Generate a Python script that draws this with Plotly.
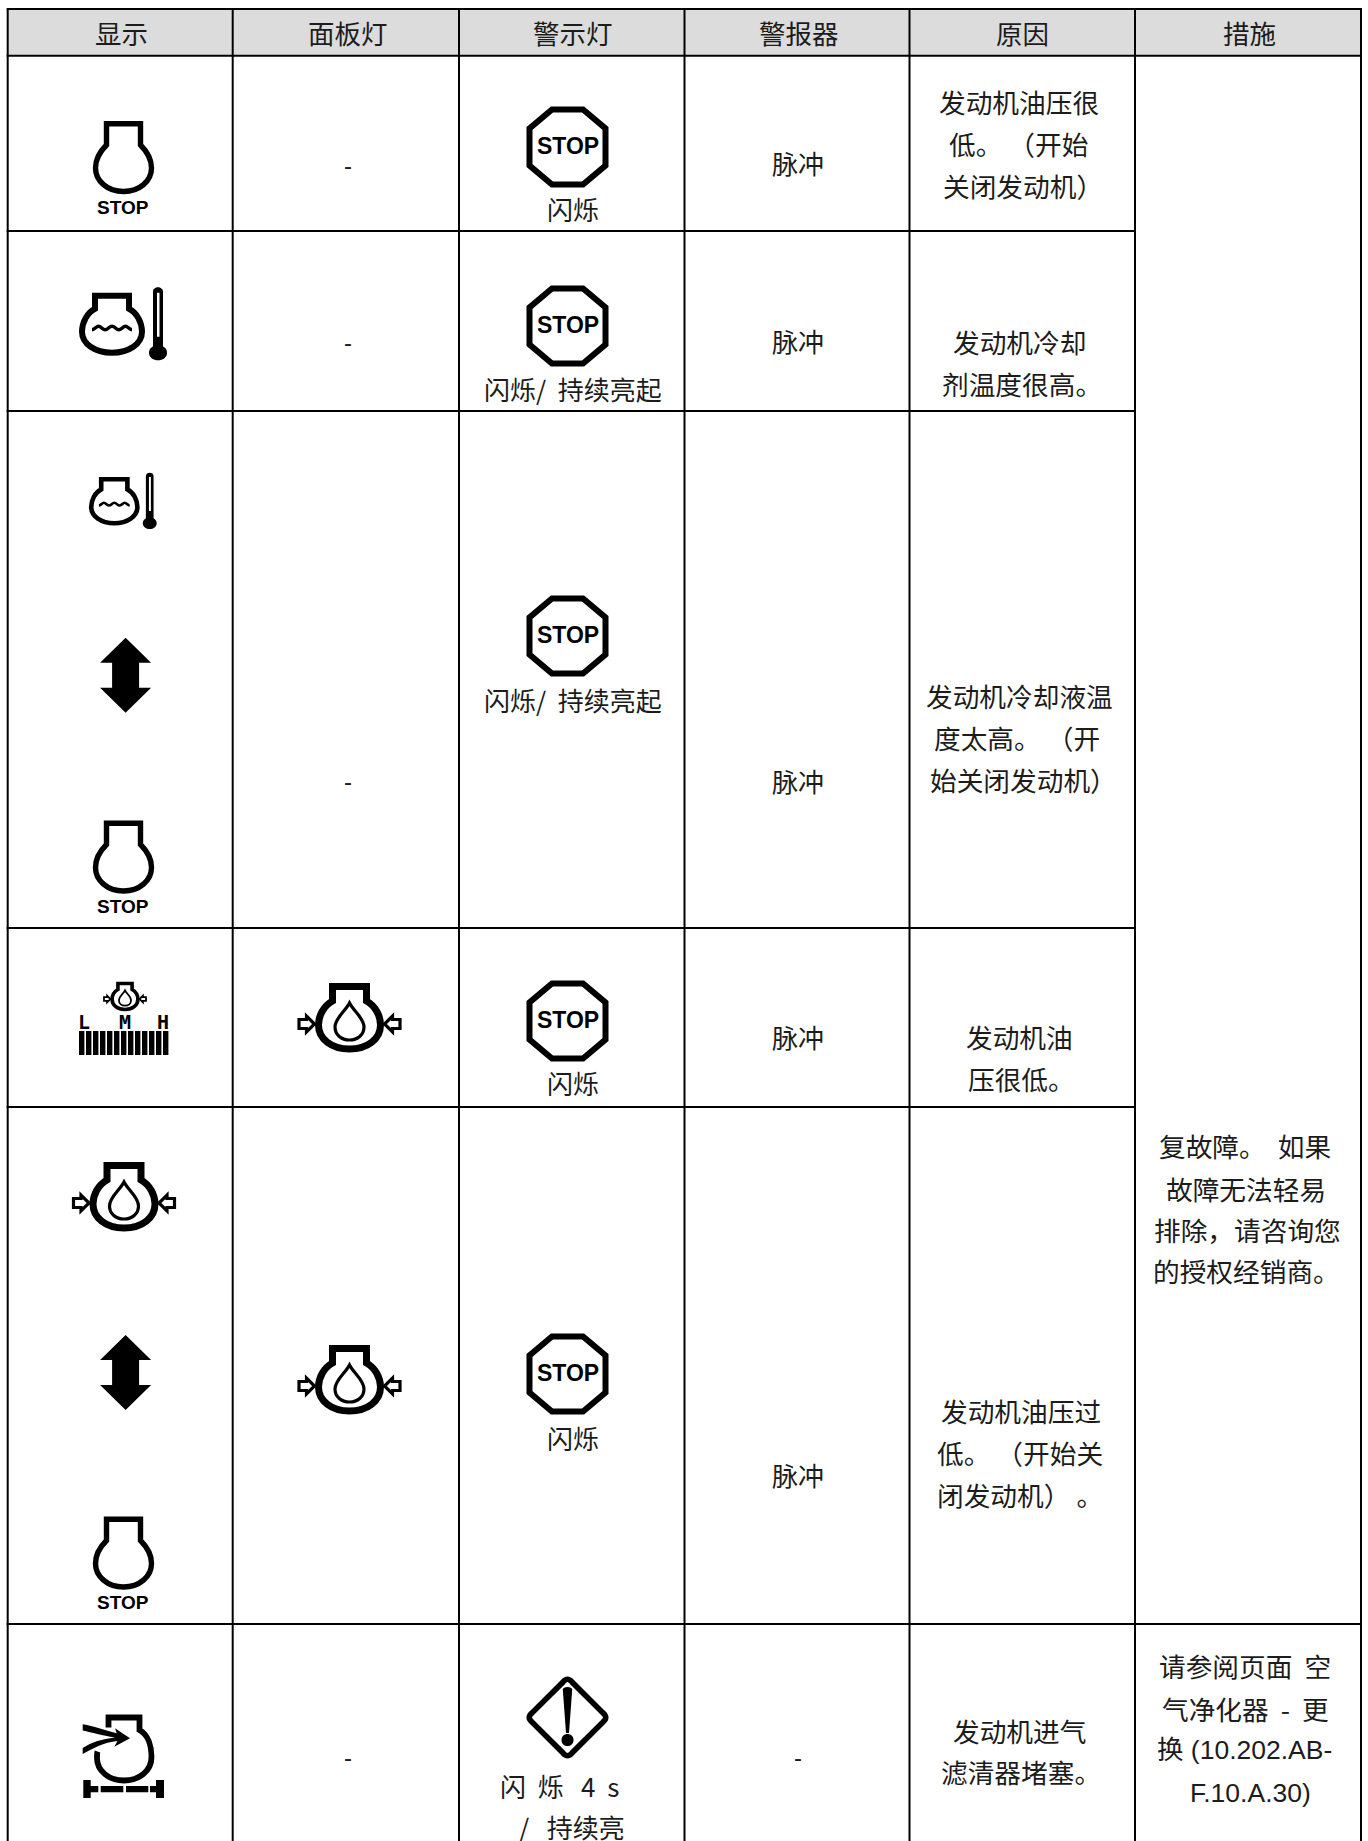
import re
import plotly.graph_objects as go

W, H = 1368, 1841
CJK = "Noto Sans CJK SC"
LAT = "Liberation Sans"
MIX = "Liberation Sans, Noto Sans CJK SC"
INK = "#1c1c1c"
SP = "\u00a0"

# ---- table structure ----
col_edges = [7.7, 232.7, 459, 684.5, 909.5, 1135, 1361]
row_edges = [9, 55.8, 231, 411, 928, 1107, 1624]
headers = ["显示", "面板灯", "警示灯", "警报器", "原因", "措施"]
header_x = [121, 347.5, 573, 798.5, 1022.5, 1249]
header_y = 32

# ---- cell texts: (text, centre x, centre y) ----
dash_cells = [(347.5, 165), (347.5, 342), (347.5, 781), (347.5, 1757), (798, 1757)]
alarm_cells = [("脉冲", 798, 162), ("脉冲", 798, 340), ("脉冲", 798, 780),
               ("脉冲", 798, 1036), ("脉冲", 798, 1474)]
lamp_labels = [("闪烁", 573, 208), (f"闪烁/{SP}{SP}持续亮起", 573, 388), (f"闪烁/{SP}{SP}持续亮起", 573, 699),
               ("闪烁", 573, 1082), ("闪烁", 573, 1437),
               (f"闪{SP}{SP}烁{SP}{SP}{SP}4{SP}{SP}s", 559, 1785), (f"/{SP}{SP}{SP}持续亮", 572, 1826)]
cause_lines = [("发动机油压很", 1019, 101), (f"低。{SP}（开始", 1018, 143), ("关闭发动机）", 1023, 185),
               ("发动机冷却", 1019, 341), ("剂温度很高。", 1022, 383),
               ("发动机冷却液温", 1019, 695), (f"度太高。{SP}（开", 1017, 737), ("始关闭发动机）", 1023, 779),
               ("发动机油", 1019, 1036), ("压很低。", 1021, 1078),
               ("发动机油压过", 1021, 1410), (f"低。{SP}（开始关", 1020, 1452), (f"闭发动机）{SP}。", 1020, 1494),
               ("发动机进气", 1019, 1730), ("滤清器堵塞。", 1021, 1771)]
action_lines = [(f"复故障。{SP}{SP}如果", 1245, 1145, CJK), ("故障无法轻易", 1246, 1188, CJK),
                ("排除，请咨询您", 1247, 1229, CJK), ("的授权经销商。", 1246, 1270, CJK),
                (f"请参阅页面{SP}{SP}空", 1245, 1665, CJK), (f"气净化器{SP}{SP}-{SP}{SP}更", 1245, 1708, CJK),
                ("换 (10.202.AB-", 1244, 1750, MIX), ("F.10.A.30)", 1250, 1793, MIX)]

# ---- icon placements ----
stop_engines = [(123.5, 121), (123.5, 820.5), (123.5, 1516.5)]
coolant_engines = [(112, 292.7, 1.0), (114.3, 477, 0.77)]
double_arrows = [(125.6, 675.2), (125.6, 1372.5)]
oil_engines = [(349.5, 983, 1.0), (349.5, 1345, 1.0), (124, 1162, 1.0), (125, 982, 0.416)]
stop_signs = [(567.5, 147), (567.5, 326), (567.5, 636), (567.5, 1021), (567.5, 1374)]
warning_signs = [(567.5, 1717.5)]
intake_engines = [(124, 1715)]
gauge_letters = [("L", 84), ("M", 125), ("H", 163)]
gauge_bar_count = 13

# ---- icon outlines, in local pixels ----
ENGINE_TALL = ("M -17 24 L -17 2.7 L 17 2.7 L 17 24 C 24 31 28 39 28 47 "
               "C 28 60 16 70.5 0 70.5 C -16 70.5 -28 60 -28 47 C -28 39 -24 31 -17 24 Z")
ENGINE_ROUND = ("M -17 16 L -17 3 L 17 3 L 17 16 C 25 20 30 30 30 39 "
                "C 30 51 17 60 0 60 C -17 60 -30 51 -30 39 C -30 30 -25 20 -17 16 Z")
WAVES = ("M -20 37 C -17 37 -16 33.5 -13.5 33.5 C -11 33.5 -10 37 -7 37 C -4 37 -3 33.5 0 33.5 "
         "C 3 33.5 4 37 7 37 C 10 37 11 33.5 13.5 33.5 C 16 33.5 17 37 20 37")
THERMO_TUBE = ("M 41 -1 C 41 -7 51 -7 51 -1 L 51 55 L 41 55 Z "
               "M 45 0 L 47.5 0 L 47.5 44 L 45 44 Z")
THERMO_BULB = "M 37 60 C 37 50 55 50 55 60 C 55 70 37 70 37 60 Z"
ENGINE_OIL = ("M -17 18 L -17 3.5 L 17 3.5 L 17 18 C 26 23 31 33 31 42 "
              "C 31 56 18 66 0 66 C -18 66 -31 56 -31 42 C -31 33 -26 23 -17 18 Z")
DROP = ("M 0 20 C 4 28 14.5 35 14.5 44 C 14.5 52 8 57 0 57 "
        "C -8 57 -14.5 52 -14.5 44 C -14.5 35 -4 28 0 20 Z")
ARROW_L = "M -50.5 36.5 L -43 36.5 L -43 33 L -35 41 L -43 49 L -43 45.5 L -50.5 45.5 Z"
ARROW_R = "M 50.5 36.5 L 43 36.5 L 43 33 L 35 41 L 43 49 L 43 45.5 L 50.5 45.5 Z"
OCTAGON = "M -15.5 -37.5 L 15.5 -37.5 L 38 -18.5 L 38 18.5 L 15.5 37.5 L -15.5 37.5 L -38 18.5 L -38 -18.5 Z"
DIAMOND = ("M -4.5 -35.5 Q 0 -41 4.5 -35.5 L 35.5 -4.5 Q 41 0 35.5 4.5 L 4.5 35.5 Q 0 41 -4.5 35.5 "
           "L -35.5 4.5 Q -41 0 -35.5 -4.5 Z")
BANG = "M -4.7 -28 C -4.7 -31.5 4.7 -31.5 4.7 -28 L 1.5 15.5 L -1.5 15.5 Z"
BANG_DOT = "M -6 22.5 C -6 14.5 6 14.5 6 22.5 C 6 30.5 -6 30.5 -6 22.5 Z"
DOUBLE_ARROW = ("M 0 -37.5 L 25.5 -12.5 L 13.5 -12.5 L 13.5 12.5 L 25.5 12.5 L 0 37.5 L -25.5 12.5 "
                "L -13.5 12.5 L -13.5 -12.5 L -25.5 -12.5 Z")
INTAKE_BODY = ("M -15.5 12.5 L -15.5 2.5 L 15.5 2.5 L 15.5 15 C 24.5 20 27.5 32 27.5 42 "
               "C 27.5 56 15 65.5 0 65.5 C -15 65.5 -27 56 -27 43 C -27 41 -27 38 -26.5 36.5")
INTAKE_ARROWS = ("M -41.3 9.3 C -30 11 -20 15 -7.3 18.3 L -9 13.3 L 6 23.3 L -9.7 31.7 L -6.5 26 "
                 "C -20 27 -32 34 -41.3 39 L -41.3 33 C -32 27 -22 24 -9 22.5 "
                 "C -22 20.5 -32 17.5 -41.3 15.5 Z")
INTAKE_BASE = ("M -40.7 65 L -33.3 65 L -33.3 71 L -25.7 71 L -25.7 77.3 L -33.3 77.3 L -33.3 83 L -40.7 83 Z "
               "M -23.3 71 L -0.7 71 L -0.7 77.3 L -23.3 77.3 Z "
               "M 2 71 L 24.3 71 L 24.3 77.3 L 2 77.3 Z "
               "M 26 71 L 32 71 L 32 65 L 40 65 L 40 83 L 32 83 L 32 77.3 L 26 77.3 Z")

shapes, notes = [], []


def place(path, ox, oy, s=1.0):
    out, is_x = [], True
    for tok in path.split():
        if re.fullmatch(r"[A-Za-z]", tok):
            out.append(tok)
            is_x = True
        else:
            v = float(tok) * s + (ox if is_x else oy)
            out.append(f"{v:.2f}")
            is_x = not is_x
    return " ".join(out)


def draw(path, ox, oy, s=1.0, fill=None, lw=0.0, color="#000"):
    shapes.append(dict(type="path", xref="x", yref="y", path=place(path, ox, oy, s),
                       fillcolor=fill or "rgba(0,0,0,0)",
                       line=dict(color=color, width=lw)))


def text(t, x, y, size=26, family=CJK, color=INK):
    notes.append(dict(text=t, x=x, y=y, xref="x", yref="y", showarrow=False,
                      xanchor="center", yanchor="middle",
                      font=dict(family=family, size=size, color=color)))


# ---- grid ----
shapes.append(dict(type="rect", xref="x", yref="y", x0=col_edges[0], x1=col_edges[-1],
                   y0=row_edges[0], y1=row_edges[1], fillcolor="#dcdcdc", line=dict(width=0)))
for i, x in enumerate(col_edges):
    shapes.append(dict(type="line", xref="x", yref="y", x0=x, x1=x, y0=row_edges[0], y1=H,
                       line=dict(color="#000", width=2)))
for i, y in enumerate(row_edges):
    full = i in (0, 1, 6)
    shapes.append(dict(type="line", xref="x", yref="y", x0=col_edges[0] - 1,
                       x1=(col_edges[-1] + 1) if full else col_edges[5], y0=y, y1=y,
                       line=dict(color="#000", width=2)))

# ---- texts ----
for t, x in zip(headers, header_x):
    text(t, x, header_y, size=26.5)
for x, y in dash_cells:
    text("-", x, y, size=24, family=LAT)
for group in (alarm_cells, lamp_labels):
    for t, x, y in group:
        text(t, x, y)
for t, x, y in cause_lines:
    text(t, x, y, size=26.7)
for t, x, y, fam in action_lines:
    text(t, x, y, size=26.7 if fam == CJK else 26.5, family=fam)

# ---- icons ----
for cx, top in stop_engines:
    draw(ENGINE_TALL, cx, top, lw=5.4)
    text("<b>STOP</b>", cx - 0.5, top + 86, size=19, family=LAT, color="#000")

for cx, top, s in coolant_engines:
    draw(ENGINE_ROUND, cx, top, s, lw=6 * s)
    draw(WAVES, cx, top, s, lw=3.4 * s)
    draw(THERMO_TUBE, cx, top, s, fill="#000")
    draw(THERMO_BULB, cx, top, s, fill="#000")

for cx, cy in double_arrows:
    draw(DOUBLE_ARROW, cx, cy, fill="#000")

for cx, top, s in oil_engines:
    lw = 7 * s if s == 1 else 3.6
    thin = 3.2 if s == 1 else 1.8
    draw(ENGINE_OIL, cx, top, s, lw=lw)
    draw(DROP, cx, top, s, lw=thin)
    draw(ARROW_L, cx, top, s, fill="#fff", lw=thin)
    draw(ARROW_R, cx, top, s, fill="#fff", lw=thin)

for cx, cy in stop_signs:
    draw(OCTAGON, cx, cy, lw=6)
    text("<b>STOP</b>", cx, cy - 1, size=23, family=LAT, color="#000")

for cx, cy in warning_signs:
    draw(DIAMOND, cx, cy, lw=5.6)
    draw(BANG, cx, cy, fill="#000")
    draw(BANG_DOT, cx, cy, fill="#000")

for cx, top in intake_engines:
    draw(INTAKE_BODY, cx, top, lw=5.8)
    draw(INTAKE_ARROWS, cx, top, fill="#000")
    draw(INTAKE_BASE, cx, top, fill="#000")

# gauge under the small oil engine
for letter, x in gauge_letters:
    text(f"<b>{letter}</b>", x, 1021.5, size=20, family="DejaVu Sans Mono", color="#000")
for i in range(gauge_bar_count):
    x0 = 79 + i * 7.0
    shapes.append(dict(type="rect", xref="x", yref="y", x0=x0, x1=x0 + 5.4, y0=1031, y1=1055,
                       fillcolor="#000", line=dict(width=0)))

fig = go.Figure()
fig.add_trace(go.Scatter(x=[0, W], y=[0, H], mode="markers", marker=dict(opacity=0),
                         hoverinfo="skip", showlegend=False))
fig.update_layout(
    width=W, height=H, margin=dict(l=0, r=0, t=0, b=0, pad=0),
    paper_bgcolor="#fff", plot_bgcolor="#fff", showlegend=False,
    xaxis=dict(range=[0, W], visible=False, fixedrange=True),
    yaxis=dict(range=[H, 0], visible=False, fixedrange=True),
    shapes=shapes, annotations=notes,
)
fig.write_html("out.html", config={"displayModeBar": False},
               post_script="document.body.style.margin='0';document.documentElement.style.overflow='hidden';")
